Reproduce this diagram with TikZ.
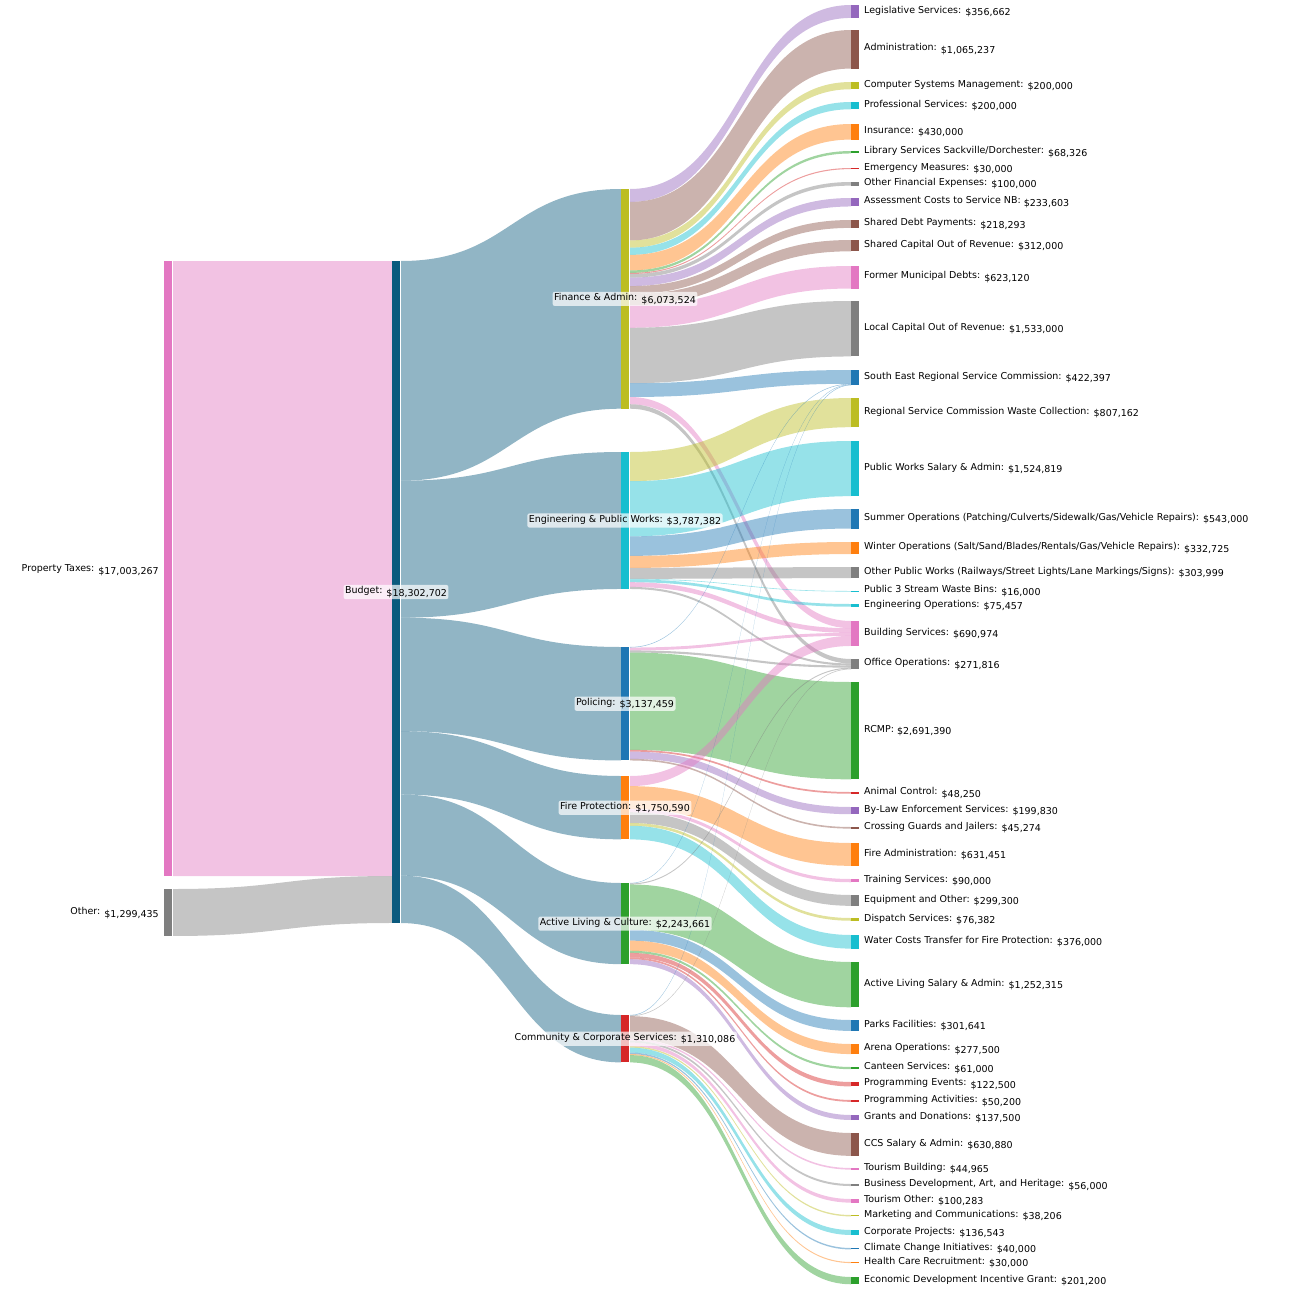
\documentclass[tikz,border=0pt]{standalone}
\usepackage{fontspec}
\setmainfont{DejaVu Sans}
\definecolor{cpu}{HTML}{9467bd}\definecolor{cbr}{HTML}{8c564b}\definecolor{col}{HTML}{bcbd22}
\definecolor{ccy}{HTML}{17becf}\definecolor{cor}{HTML}{ff7f0e}\definecolor{cgr}{HTML}{2ca02c}
\definecolor{cre}{HTML}{d62728}\definecolor{cpi}{HTML}{e377c2}\definecolor{cgy}{HTML}{7f7f7f}
\definecolor{cbl}{HTML}{1f77b4}\definecolor{cbu}{HTML}{0b5a7e}
\def\S{36.17}
\newcommand\setnode[3]{\expandafter\xdef\csname nx@#1\endcsname{#2}%
 \expandafter\xdef\csname ot@#1\endcsname{#3}\expandafter\xdef\csname it@#1\endcsname{#3}%
 \expandafter\xdef\csname tp@#1\endcsname{#3}}
\newcommand\flow[4]{%
 \pgfmathsetmacro\ya{\csname ot@#1\endcsname}%
 \pgfmathsetmacro\hh{#3*\S}%
 \pgfmathsetmacro\yb{\ya+\hh}%
 \pgfmathsetmacro\yc{\csname it@#2\endcsname}%
 \pgfmathsetmacro\yd{\yc+\hh}%
 \pgfmathsetmacro\xa{\csname nx@#1\endcsname+9}%
 \pgfmathsetmacro\xb{\csname nx@#2\endcsname}%
 \pgfmathsetmacro\xm{(\xa+\xb)/2}%
 \fill[#4,opacity=.45] (\xa,\ya) .. controls (\xm,\ya) and (\xm,\yc) .. (\xb,\yc) -- (\xb,\yd) .. controls (\xm,\yd) and (\xm,\yb) .. (\xa,\yb) -- cycle;
 \expandafter\xdef\csname ot@#1\endcsname{\yb}%
 \expandafter\xdef\csname it@#2\endcsname{\yd}}
\newcommand\nbar[2]{%
 \pgfmathsetmacro\xa{\csname nx@#1\endcsname}%
 \pgfmathsetmacro\ya{\csname tp@#1\endcsname}%
 \pgfmathsetmacro\yb{max(\csname it@#1\endcsname,\csname ot@#1\endcsname)}%
 \fill[#2] (\xa,\ya) rectangle (\xa+8,\yb);}
\newcommand\lab[3]{%
 \pgfmathsetmacro\xa{\csname nx@#1\endcsname+12}%
 \pgfmathsetmacro\ya{(\csname tp@#1\endcsname+max(\csname it@#1\endcsname,\csname ot@#1\endcsname))/2}%
 \node[lbl,anchor=west] at (\xa,\ya) {#2: \raisebox{-2.5pt}{\$#3}};}
\newcommand\mlab[3]{%
 \pgfmathsetmacro\xa{\csname nx@#1\endcsname+4}%
 \pgfmathsetmacro\ya{(\csname tp@#1\endcsname+max(\csname it@#1\endcsname,\csname ot@#1\endcsname))/2}%
 \node[lbl,fill=white,fill opacity=.7,text opacity=1,rounded corners=2pt,inner sep=1.5pt] at (\xa,\ya) {#2: \raisebox{-2.5pt}{\$#3}};}
\tikzset{lbl/.style={font=\fontsize{9.5}{11}\selectfont,inner sep=1pt}}
\begin{document}
\begin{tikzpicture}[x=1pt,y=-1pt]
\useasboundingbox (0,0) rectangle (1290,1290);
\setnode{pt}{164}{261}\setnode{ot}{164}{889}\setnode{bu}{392}{261}
\setnode{fa}{621}{189}\setnode{en}{621}{452}\setnode{po}{621}{647}
\setnode{fi}{621}{776}\setnode{al}{621}{883}\setnode{cc}{621}{1015}
\def\T#1#2{\setnode{#1}{851}{#2}}
\T{leg}{5}\T{adm}{30}\T{com}{82}\T{pro}{102}\T{ins}{124}\T{lib}{151}\T{eme}{168}
\T{ofe}{182}\T{ass}{198}\T{sdp}{220}\T{sco}{240}\T{fmd}{266}\T{lco}{301}\T{ser}{370}
\T{rsw}{398}\T{pws}{441}\T{sum}{509}\T{win}{542}\T{opw}{567}\T{p3s}{591}\T{eop}{604}
\T{bld}{621}\T{off}{659}\T{rcm}{682}\T{ani}{792}\T{byl}{807}\T{cro}{827}\T{fad}{843}
\T{tra}{879}\T{equ}{895}\T{dis}{918}\T{wat}{935}\T{als}{962}\T{par}{1020}\T{are}{1044}
\T{can}{1067}\T{pev}{1082}\T{pac}{1100}\T{gra}{1115}\T{ccs}{1133}\T{tbl}{1168}
\T{bus}{1184}\T{tou}{1199}\T{mar}{1215}\T{cor}{1230}\T{cli}{1248}\T{hea}{1262}\T{eco}{1277}
\flow{pt}{bu}{17.003}{cpi}\flow{ot}{bu}{1.299}{cgy}
\flow{bu}{fa}{6.074}{cbu}\flow{bu}{en}{3.787}{cbu}\flow{bu}{po}{3.137}{cbu}
\flow{bu}{fi}{1.751}{cbu}\flow{bu}{al}{2.244}{cbu}\flow{bu}{cc}{1.310}{cbu}
\flow{fa}{leg}{.357}{cpu}\flow{fa}{adm}{1.065}{cbr}\flow{fa}{com}{.2}{col}\flow{fa}{pro}{.2}{ccy}
\flow{fa}{ins}{.43}{cor}\flow{fa}{lib}{.068}{cgr}\flow{fa}{eme}{.03}{cre}\flow{fa}{ofe}{.1}{cgy}
\flow{fa}{ass}{.234}{cpu}\flow{fa}{sdp}{.218}{cbr}\flow{fa}{sco}{.312}{cbr}\flow{fa}{fmd}{.623}{cpi}
\flow{fa}{lco}{1.533}{cgy}\flow{fa}{ser}{.38}{cbl}\flow{fa}{bld}{.2}{cpi}\flow{fa}{off}{.124}{cgy}
\flow{en}{rsw}{.807}{col}\flow{en}{pws}{1.525}{ccy}\flow{en}{sum}{.54}{cbl}\flow{en}{win}{.333}{cor}
\flow{en}{opw}{.304}{cgy}\flow{en}{p3s}{.016}{ccy}\flow{en}{eop}{.075}{ccy}\flow{en}{bld}{.13}{cpi}\flow{en}{off}{.057}{cgy}
\flow{po}{ser}{.015}{cbl}\flow{po}{bld}{.08}{cpi}\flow{po}{off}{.058}{cgy}\flow{po}{rcm}{2.691}{cgr}
\flow{po}{ani}{.048}{cre}\flow{po}{byl}{.2}{cpu}\flow{po}{cro}{.045}{cbr}
\flow{fi}{bld}{.28}{cpi}\flow{fi}{fad}{.631}{cor}\flow{fi}{tra}{.09}{cpi}\flow{fi}{equ}{.299}{cgy}
\flow{fi}{dis}{.076}{col}\flow{fi}{wat}{.376}{ccy}
\flow{al}{ser}{.012}{cbl}\flow{al}{off}{.028}{cgy}\flow{al}{als}{1.252}{cgr}\flow{al}{par}{.302}{cbl}
\flow{al}{are}{.278}{cor}\flow{al}{can}{.061}{cgr}\flow{al}{pev}{.123}{cre}\flow{al}{pac}{.05}{cre}\flow{al}{gra}{.138}{cpu}
\flow{cc}{ser}{.015}{cbl}\flow{cc}{off}{.017}{cgy}\flow{cc}{ccs}{.631}{cbr}\flow{cc}{tbl}{.045}{cpi}
\flow{cc}{bus}{.056}{cgy}\flow{cc}{tou}{.1}{cpi}\flow{cc}{mar}{.038}{col}\flow{cc}{cor}{.137}{ccy}
\flow{cc}{cli}{.04}{cbl}\flow{cc}{hea}{.03}{cor}\flow{cc}{eco}{.201}{cgr}
\nbar{pt}{cpi}\nbar{ot}{cgy}\nbar{bu}{cbu}\nbar{fa}{col}\nbar{en}{ccy}\nbar{po}{cbl}\nbar{fi}{cor}\nbar{al}{cgr}\nbar{cc}{cre}
\nbar{leg}{cpu}\nbar{adm}{cbr}\nbar{com}{col}\nbar{pro}{ccy}\nbar{ins}{cor}\nbar{lib}{cgr}\nbar{eme}{cre}
\nbar{ofe}{cgy}\nbar{ass}{cpu}\nbar{sdp}{cbr}\nbar{sco}{cbr}\nbar{fmd}{cpi}\nbar{lco}{cgy}\nbar{ser}{cbl}
\nbar{rsw}{col}\nbar{pws}{ccy}\nbar{sum}{cbl}\nbar{win}{cor}\nbar{opw}{cgy}\nbar{p3s}{ccy}\nbar{eop}{ccy}
\nbar{bld}{cpi}\nbar{off}{cgy}\nbar{rcm}{cgr}\nbar{ani}{cre}\nbar{byl}{cpu}\nbar{cro}{cbr}\nbar{fad}{cor}
\nbar{tra}{cpi}\nbar{equ}{cgy}\nbar{dis}{col}\nbar{wat}{ccy}\nbar{als}{cgr}\nbar{par}{cbl}\nbar{are}{cor}
\nbar{can}{cgr}\nbar{pev}{cre}\nbar{pac}{cre}\nbar{gra}{cpu}\nbar{ccs}{cbr}\nbar{tbl}{cpi}
\nbar{bus}{cgy}\nbar{tou}{cpi}\nbar{mar}{col}\nbar{cor}{ccy}\nbar{cli}{cbl}\nbar{hea}{cor}\nbar{eco}{cgr}
\node[lbl,anchor=east] at (160,570) {Property Taxes: \raisebox{-2.5pt}{\$17,003,267}};
\node[lbl,anchor=east] at (160,913) {Other: \raisebox{-2.5pt}{\$1,299,435}};
\mlab{bu}{Budget}{18,302,702}\mlab{fa}{Finance \& Admin}{6,073,524}
\mlab{en}{Engineering \& Public Works}{3,787,382}\mlab{po}{Policing}{3,137,459}
\mlab{fi}{Fire Protection}{1,750,590}\mlab{al}{Active Living \& Culture}{2,243,661}
\mlab{cc}{Community \& Corporate Services}{1,310,086}
\lab{leg}{Legislative Services}{356,662}\lab{adm}{Administration}{1,065,237}
\lab{com}{Computer Systems Management}{200,000}\lab{pro}{Professional Services}{200,000}
\lab{ins}{Insurance}{430,000}\lab{lib}{Library Services Sackville/Dorchester}{68,326}
\lab{eme}{Emergency Measures}{30,000}\lab{ofe}{Other Financial Expenses}{100,000}
\lab{ass}{Assessment Costs to Service NB}{233,603}\lab{sdp}{Shared Debt Payments}{218,293}
\lab{sco}{Shared Capital Out of Revenue}{312,000}\lab{fmd}{Former Municipal Debts}{623,120}
\lab{lco}{Local Capital Out of Revenue}{1,533,000}\lab{ser}{South East Regional Service Commission}{422,397}
\lab{rsw}{Regional Service Commission Waste Collection}{807,162}\lab{pws}{Public Works Salary \& Admin}{1,524,819}
\lab{sum}{Summer Operations (Patching/Culverts/Sidewalk/Gas/Vehicle Repairs)}{543,000}
\lab{win}{Winter Operations (Salt/Sand/Blades/Rentals/Gas/Vehicle Repairs)}{332,725}
\lab{opw}{Other Public Works (Railways/Street Lights/Lane Markings/Signs)}{303,999}
\lab{p3s}{Public 3 Stream Waste Bins}{16,000}\lab{eop}{Engineering Operations}{75,457}
\lab{bld}{Building Services}{690,974}\lab{off}{Office Operations}{271,816}
\lab{rcm}{RCMP}{2,691,390}\lab{ani}{Animal Control}{48,250}\lab{byl}{By-Law Enforcement Services}{199,830}
\lab{cro}{Crossing Guards and Jailers}{45,274}\lab{fad}{Fire Administration}{631,451}
\lab{tra}{Training Services}{90,000}\lab{equ}{Equipment and Other}{299,300}\lab{dis}{Dispatch Services}{76,382}
\lab{wat}{Water Costs Transfer for Fire Protection}{376,000}\lab{als}{Active Living Salary \& Admin}{1,252,315}
\lab{par}{Parks Facilities}{301,641}\lab{are}{Arena Operations}{277,500}\lab{can}{Canteen Services}{61,000}
\lab{pev}{Programming Events}{122,500}\lab{pac}{Programming Activities}{50,200}\lab{gra}{Grants and Donations}{137,500}
\lab{ccs}{CCS Salary \& Admin}{630,880}\lab{tbl}{Tourism Building}{44,965}
\lab{bus}{Business Development, Art, and Heritage}{56,000}\lab{tou}{Tourism Other}{100,283}
\lab{mar}{Marketing and Communications}{38,206}\lab{cor}{Corporate Projects}{136,543}
\lab{cli}{Climate Change Initiatives}{40,000}\lab{hea}{Health Care Recruitment}{30,000}
\lab{eco}{Economic Development Incentive Grant}{201,200}
\end{tikzpicture}
\end{document}
